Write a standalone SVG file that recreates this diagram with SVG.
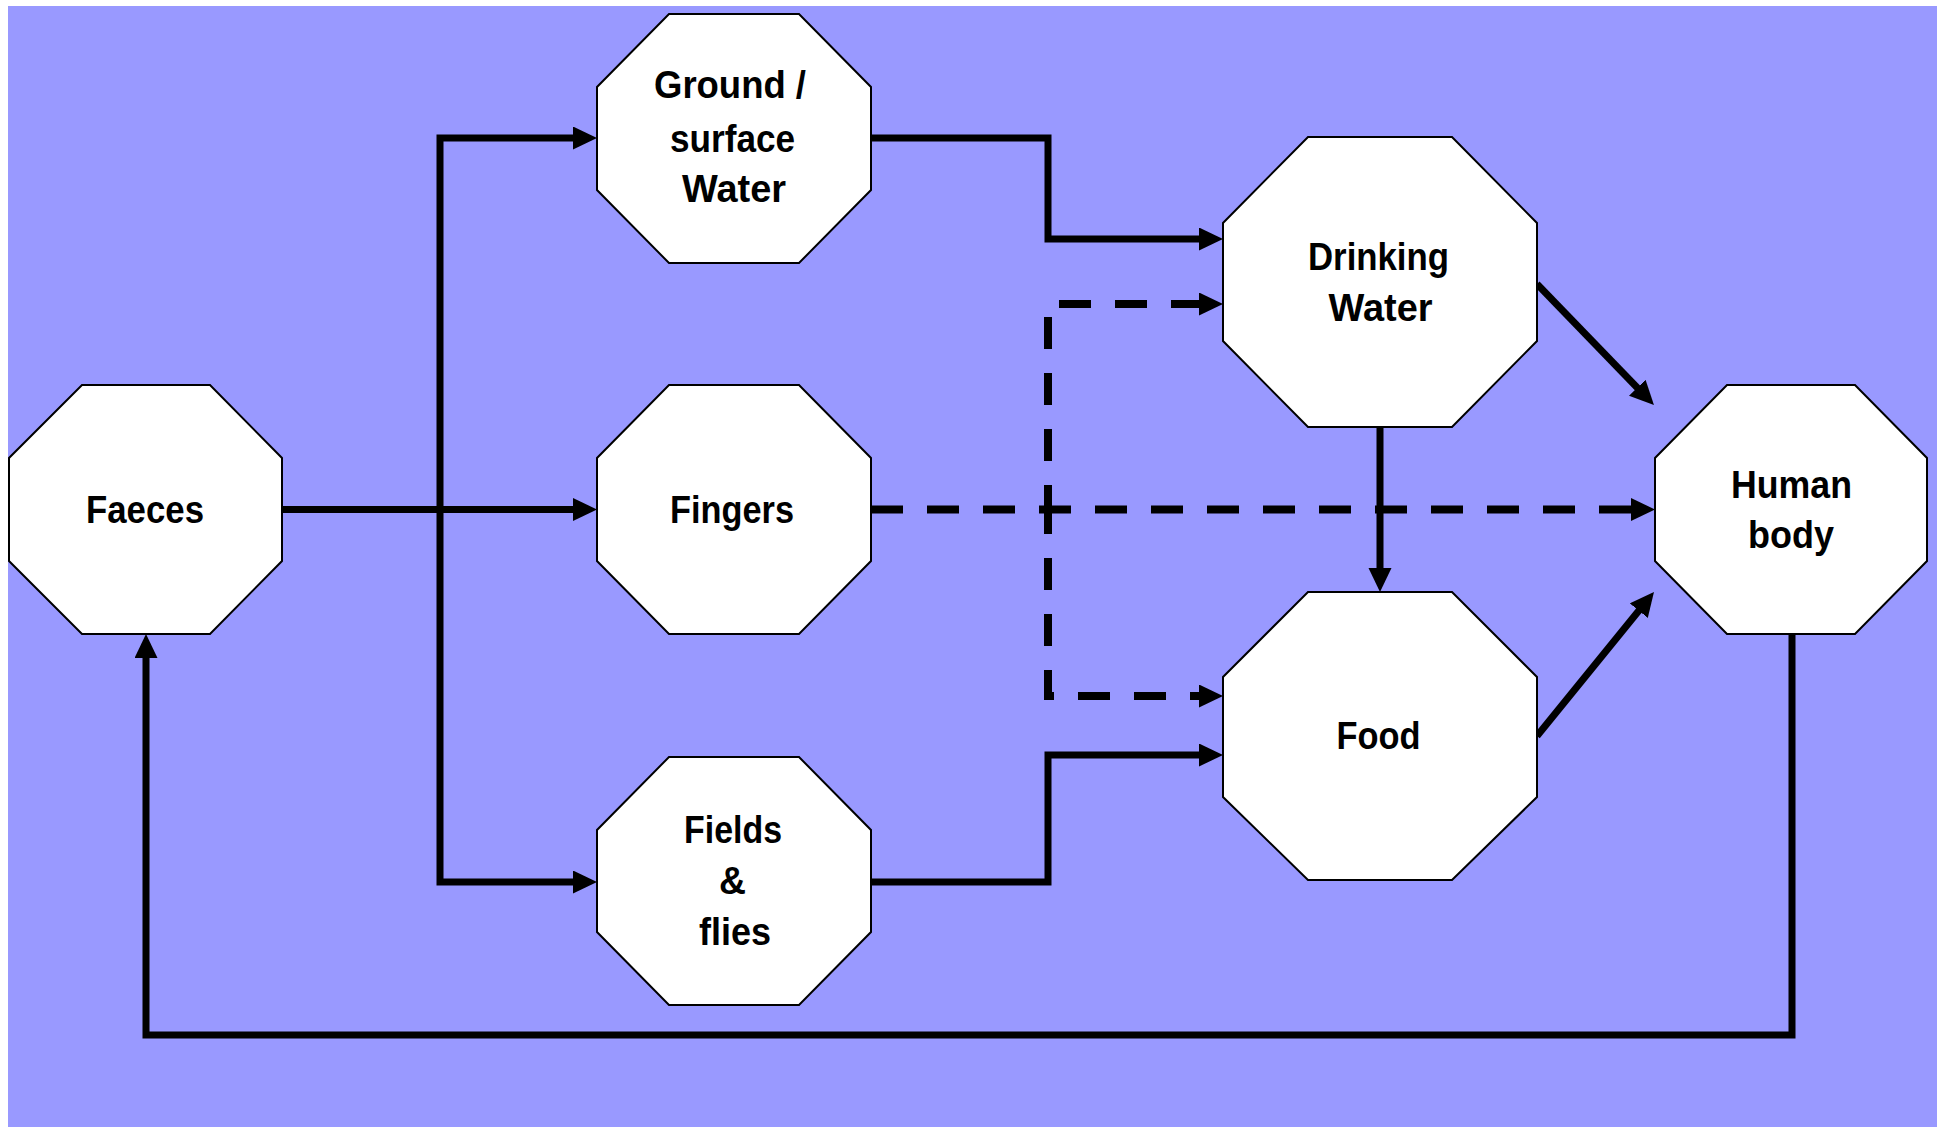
<svg xmlns="http://www.w3.org/2000/svg" width="1937" height="1127" viewBox="0 0 1937 1127">
<defs>
<style>
.node polygon{fill:#fff;stroke:#000;stroke-width:2;stroke-linejoin:miter}
.node text{font-family:"Liberation Sans",Arial,sans-serif;font-weight:bold;font-size:39px;fill:#000;text-anchor:middle}
.c{fill:none;stroke:#000;stroke-width:7;stroke-linejoin:miter;stroke-linecap:butt;marker-end:url(#ah)}
.d{stroke-width:8;stroke-dasharray:32 24}
</style>
<marker id="ah" markerUnits="userSpaceOnUse" markerWidth="26" markerHeight="26" refX="15" refY="11.5" orient="auto" viewBox="0 0 26 26">
<path d="M0,0 L24,11.5 L0,23 z" fill="#000"/>
</marker>
</defs>
<rect x="0" y="0" width="1937" height="1127" fill="#fff"/>
<rect x="8" y="6" width="1929" height="1121" fill="#9999FF"/>
<g id="connectors">
<path class="c" d="M282,509.5 H588"/>
<path class="c" d="M440,509.5 V138 H588"/>
<path class="c" d="M440,509.5 V882 H588"/>
<path class="c" d="M871,138 H1048 V239 H1214"/>
<path class="c" d="M871,882 H1048 V755 H1214"/>
<path class="c d" d="M871,509.5 H1646"/>
<path class="c d" d="M1048,517 V304 H1214"/>
<path class="c d" d="M1048,502 V696 H1214"/>
<path class="c" d="M1380,427 V583"/>
<path class="c" d="M1537,284 L1647.7,398.5"/>
<path class="c" d="M1537,736 L1648.3,599"/>
<path class="c" d="M1792,634 V1035 H146 V643"/>
</g>
<g id="faeces" class="node">
<polygon points="82,385 210,385 282,458 282,561 210,634 82,634 9,561 9,458"/>
<text x="145" y="523" textLength="118" lengthAdjust="spacingAndGlyphs">Faeces</text>
</g>
<g id="ground-water" class="node">
<polygon points="669,14 799,14 871,87 871,190 799,263 669,263 597,190 597,87"/>
<text x="730" y="98" textLength="152" lengthAdjust="spacingAndGlyphs">Ground /</text>
<text x="732.5" y="152" textLength="125" lengthAdjust="spacingAndGlyphs">surface</text>
<text x="734" y="202" textLength="104" lengthAdjust="spacingAndGlyphs">Water</text>
</g>
<g id="fingers" class="node">
<polygon points="669,385 799,385 871,458 871,561 799,634 669,634 597,561 597,458"/>
<text x="732" y="523" textLength="124" lengthAdjust="spacingAndGlyphs">Fingers</text>
</g>
<g id="fields-flies" class="node">
<polygon points="669,757 799,757 871,830 871,932 799,1005 669,1005 597,932 597,830"/>
<text x="733" y="843" textLength="98" lengthAdjust="spacingAndGlyphs">Fields</text>
<text x="732.5" y="894" textLength="27" lengthAdjust="spacingAndGlyphs">&amp;</text>
<text x="735" y="945" textLength="72" lengthAdjust="spacingAndGlyphs">flies</text>
</g>
<g id="drinking-water" class="node">
<polygon points="1308,137 1452,137 1537,223 1537,341 1452,427 1308,427 1223,341 1223,223"/>
<text x="1378.5" y="270" textLength="141" lengthAdjust="spacingAndGlyphs">Drinking</text>
<text x="1380.5" y="321" textLength="104" lengthAdjust="spacingAndGlyphs">Water</text>
</g>
<g id="food" class="node">
<polygon points="1308,592 1452,592 1537,677 1537,797 1452,880 1308,880 1223,797 1223,677"/>
<text x="1378.5" y="749" textLength="84" lengthAdjust="spacingAndGlyphs">Food</text>
</g>
<g id="human-body" class="node">
<polygon points="1727,385 1855,385 1927,458 1927,561 1855,634 1727,634 1655,561 1655,458"/>
<text x="1791.5" y="498" textLength="121" lengthAdjust="spacingAndGlyphs">Human</text>
<text x="1791" y="548" textLength="86" lengthAdjust="spacingAndGlyphs">body</text>
</g>
</svg>
